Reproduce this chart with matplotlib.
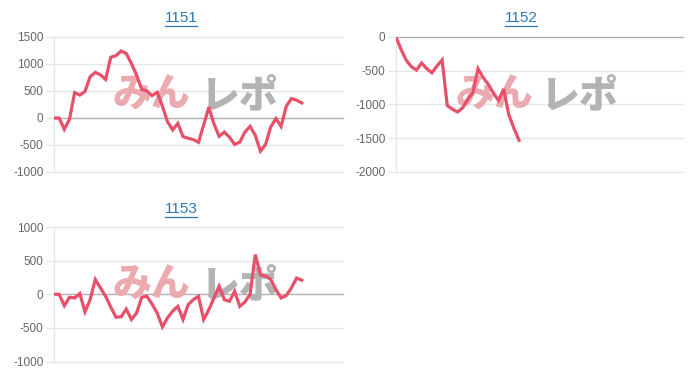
import matplotlib
matplotlib.use("Agg")
import matplotlib.pyplot as plt
from matplotlib.lines import Line2D

plt.rcParams['font.family'] = ['Liberation Sans', 'DejaVu Sans']

# --- data ---
n_slots = 57  # x positions shared by all three charts

titles = ["1151", "1152", "1153"]

values_1151 = [0, 0, -210, -25, 470, 425, 490, 765, 845, 800,
               715, 1125, 1155, 1240, 1195, 1010, 795, 530, 500, 415,
               475, 220, -70, -220, -100, -345, -375, -400, -450, -130,
               200, -110, -340, -260, -355, -490, -445, -260, -155, -320,
               -615, -490, -165, -10, -155, 215, 360, 330, 280]

values_1152 = [0, -185, -345, -440, -490, -385, -470, -530, -430, -340,
               -1015, -1070, -1110, -1050, -925, -825, -470, -600, -700, -830,
               -940, -770, -1150, -1350, -1530]

values_1153 = [0, 0, -170, -45, -55, 10, -260, -80, 220, 95,
               -30, -190, -340, -335, -220, -375, -280, -45, -30, -145,
               -280, -485, -350, -250, -180, -375, -155, -80, -30, -375,
               -230, -55, 120, -80, -105, 45, -180, -115, 0, 590,
               290, 270, 220, 70, -55, -20, 95, 240, 210]

yticks_1151 = [-1000, -500, 0, 500, 1000, 1500]
yticks_1152 = [-2000, -1500, -1000, -500, 0]
yticks_1153 = [-1000, -500, 0, 500, 1000]

W, H = 700, 382
LINE = '#e8506a'
GRID = '#e6e6e6'
ZERO = '#b0b0b0'
TICK = '#666666'
TITLE = '#2a78b8'
WM_FONT = ['Noto Sans CJK JP', 'DejaVu Sans']


def px_rect(left, top, right, bottom):
    return [left / W, 1 - bottom / H, (right - left) / W, (bottom - top) / H]


fig = plt.figure(figsize=(W / 100, H / 100), dpi=100)

panels = [
    (values_1151, yticks_1151, px_rect(54, 37, 343, 172), (181, 22), (151, 239, 95)),
    (values_1152, yticks_1152, px_rect(396, 37, 683, 172), (521, 22), (494, 579, 95)),
    (values_1153, yticks_1153, px_rect(54, 227, 343, 361.5), (181, 213), (151, 239, 285)),
]

title_texts = []
for (vals, ticks, rect, tpos, wm), title in zip(panels, titles):
    ax = fig.add_axes(rect)
    ax.plot(range(len(vals)), vals, color=LINE, lw=2.3, zorder=3,
            solid_joinstyle='miter')
    ax.set_xlim(0, n_slots - 1)
    ax.set_ylim(ticks[0], ticks[-1])
    ax.set_yticks(ticks)
    ax.set_yticklabels([str(t) for t in ticks])
    ax.set_xticks([])
    for s in ax.spines.values():
        s.set_visible(False)
    ax.spines['left'].set_visible(True)
    ax.spines['left'].set_color(GRID)
    ax.spines['left'].set_linewidth(1)
    ax.tick_params(axis='y', length=6, width=1, color=GRID, pad=1.5,
                   labelsize=8.5, labelcolor=TICK)
    for t in ticks:
        ax.axhline(t, color=ZERO if t == 0 else GRID, lw=1, zorder=1,
                   clip_on=False)

    # watermark logo
    ax.text(wm[0] / W, 1 - wm[2] / H, "みん", transform=fig.transFigure,
            ha='center', va='center', fontsize=28, fontweight='heavy',
            color='#eaaab0', family=WM_FONT, zorder=2)
    ax.text(wm[1] / W, 1 - wm[2] / H, "レポ", transform=fig.transFigure,
            ha='center', va='center', fontsize=28, fontweight='heavy',
            color='#b3b3b3', family=WM_FONT, zorder=2)

    tt = fig.text(tpos[0] / W, 1 - tpos[1] / H, title, ha='center',
                  va='baseline', fontsize=11, color=TITLE)
    title_texts.append(tt)

# underline the titles (they are links in the original)
fig.canvas.draw()
r = fig.canvas.get_renderer()
for tt in title_texts:
    bb = tt.get_window_extent(r)
    y = bb.y0 - 1
    fig.add_artist(Line2D([bb.x0 / W, bb.x1 / W], [y / H, y / H],
                          transform=fig.transFigure, color=TITLE, lw=0.9))

fig.savefig("out.png", dpi=100)
